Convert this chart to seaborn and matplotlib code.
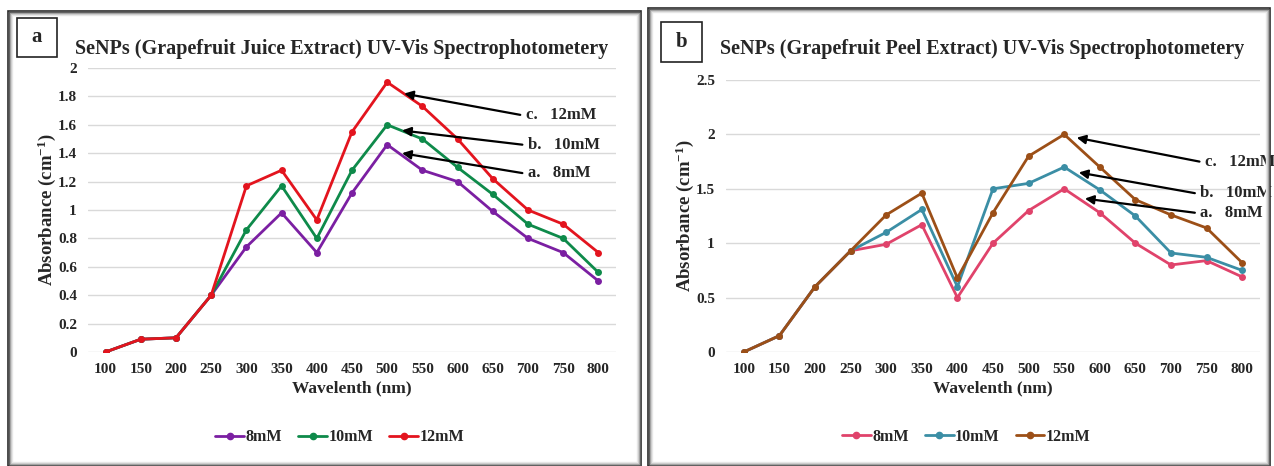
import matplotlib
matplotlib.use("Agg")
import matplotlib.pyplot as plt
from matplotlib.patches import Rectangle
from matplotlib.lines import Line2D
import seaborn as sns
import pandas as pd

# data
wavelengths = [100, 150, 200, 250, 300, 350, 400, 450, 500, 550, 600, 650, 700, 750, 800]
concs = ["8mM", "10mM", "12mM"]

juice_8 = [0, 0.09, 0.10, 0.40, 0.74, 0.98, 0.70, 1.12, 1.46, 1.28, 1.20, 0.99, 0.80, 0.70, 0.50]
juice_10 = [0, 0.09, 0.10, 0.40, 0.86, 1.17, 0.80, 1.28, 1.60, 1.50, 1.30, 1.11, 0.90, 0.80, 0.56]
juice_12 = [0, 0.09, 0.10, 0.40, 1.17, 1.28, 0.93, 1.55, 1.90, 1.73, 1.50, 1.22, 1.00, 0.90, 0.70]

peel_8 = [0, 0.15, 0.60, 0.93, 0.99, 1.17, 0.50, 1.00, 1.30, 1.50, 1.28, 1.00, 0.80, 0.84, 0.69]
peel_10 = [0, 0.15, 0.60, 0.93, 1.10, 1.31, 0.60, 1.50, 1.55, 1.70, 1.49, 1.25, 0.91, 0.87, 0.75]
peel_12 = [0, 0.15, 0.60, 0.93, 1.26, 1.46, 0.68, 1.28, 1.80, 2.00, 1.70, 1.40, 1.26, 1.14, 0.82]

juice_colors = ["#7B1FA2", "#0E8A4A", "#E3141E"]
peel_colors = ["#E0436B", "#3B8EA5", "#9C4F17"]

sns.set_theme(style="white")
plt.rcParams["font.family"] = ["Liberation Serif", "DejaVu Serif"]
plt.rcParams["font.weight"] = "bold"
plt.rcParams["mathtext.fontset"] = "custom"
plt.rcParams["mathtext.rm"] = "Liberation Serif:bold"
plt.rcParams["mathtext.bf"] = "Liberation Serif:bold"
plt.rcParams["mathtext.default"] = "bf"

W, H = 1274, 466
fig = plt.figure(figsize=(W / 100, H / 100), dpi=100)
fig.patch.set_facecolor("white")


def frame(x0, y0, x1, y1):
    # panel border with a soft inner shadow, pixel coords from top-left
    for i, g in enumerate(["#2b2b2b", "#555555", "#9a9a9a", "#c8c8c8", "#e6e6e6"]):
        r = Rectangle(((x0 + i) / W, 1 - (y1 - i) / H), (x1 - x0 - 2 * i) / W,
                      (y1 - y0 - 2 * i) / H, transform=fig.transFigure,
                      fill=False, ec=g, lw=1.2 if i == 0 else 1.0)
        fig.add_artist(r)


def letter_box(x0, y0, x1, y1, s):
    fig.add_artist(Rectangle((x0 / W, 1 - y1 / H), (x1 - x0) / W, (y1 - y0) / H,
                             transform=fig.transFigure, fill=False, ec="#222222", lw=1.2))
    fig.text((x0 + x1) / 2 / W, 1 - (y0 + y1) / 2 / H, s, ha="center", va="center",
             fontsize=15, fontweight="bold")


def panel(rect, series, colors, ylim, yticks, yticklabels, title, notes, leg_xy,
          title_pad):
    ax = fig.add_axes(rect)
    rows = []
    for c, vals in zip(concs, series):
        for i, v in enumerate(vals):
            rows.append({"pos": i, "abs": v, "conc": c})
    df = pd.DataFrame(rows)
    sns.lineplot(data=df, x="pos", y="abs", hue="conc", palette=dict(zip(concs, colors)),
                 marker="o", markersize=5, markeredgewidth=0, linewidth=2.0,
                 legend=False, ax=ax)
    ax.set_xlim(-0.5, len(wavelengths) - 0.5)
    ax.set_ylim(*ylim)
    ax.set_xticks(range(len(wavelengths)))
    ax.set_xticklabels([str(w) for w in wavelengths])
    ax.set_yticks(yticks)
    ax.set_yticklabels(yticklabels)
    ax.tick_params(axis="both", length=0, labelsize=11, pad=8)
    for lab in ax.get_xticklabels() + ax.get_yticklabels():
        lab.set_fontweight("bold")
    ax.yaxis.grid(True, color="#d9d9d9", lw=1.0)
    ax.set_axisbelow(True)
    for s in ax.spines.values():
        s.set_visible(False)
    ax.set_xlabel("Wavelenth (nm)", fontsize=12.5, fontweight="bold", labelpad=3)
    ax.set_ylabel("Absorbance (cm$^{-1}$)", fontsize=13.5, fontweight="bold", labelpad=0)
    ax.set_title(title, fontsize=14.5, fontweight="bold", pad=title_pad, x=0.48)
    for lbl, tip, tail in notes:
        ax.annotate("", xy=tip, xytext=tail, annotation_clip=False,
                    arrowprops=dict(arrowstyle="-|>", color="black", lw=1.6,
                                    mutation_scale=13, shrinkA=0, shrinkB=0))
        ax.text(tail[0] + 0.15, tail[1], lbl, ha="left", va="center", fontsize=12,
                fontweight="bold", clip_on=False)
    handles = [Line2D([], [], color=c, lw=2.0, marker="o", markersize=4.5) for c in colors]
    ax.legend(handles, concs, loc="center", bbox_to_anchor=leg_xy, ncol=3,
              frameon=False, handlelength=1.8, columnspacing=1.0,
              handletextpad=0.1, prop={"weight": "bold", "size": 11.5})
    return ax


frame(8, 11, 641, 466)
frame(648, 8, 1270, 466)
letter_box(17, 18, 57, 57, "a")
letter_box(661, 22, 702, 62, "b")

panel([88 / W, 1 - 352 / H, 528 / W, 284 / H],
      [juice_8, juice_10, juice_12], juice_colors, (0, 2),
      [0, 0.2, 0.4, 0.6, 0.8, 1.0, 1.2, 1.4, 1.6, 1.8, 2.0],
      ["0", "0.2", "0.4", "0.6", "0.8", "1", "1.2", "1.4", "1.6", "1.8", "2"],
      "SeNPs (Grapefruit Juice Extract) UV-Vis Spectrophotometery",
      [("c.   12mM", (8.48, 1.82), (11.78, 1.67)),
       ("b.   10mM", (8.42, 1.56), (11.84, 1.46)),
       ("a.   8mM", (8.42, 1.40), (11.84, 1.26))],
      (0.477, -0.30), 10)

panel([726 / W, 1 - 352 / H, 534 / W, 272 / H],
      [peel_8, peel_10, peel_12], peel_colors, (0, 2.5),
      [0, 0.5, 1.0, 1.5, 2.0, 2.5],
      ["0", "0.5", "1", "1.5", "2", "2.5"],
      "SeNPs (Grapefruit Peel Extract) UV-Vis Spectrophotometery",
      [("c.   12mM", (9.35, 1.97), (12.8, 1.75)),
       ("b.   10mM", (9.41, 1.65), (12.67, 1.46)),
       ("a.   8mM", (9.58, 1.41), (12.67, 1.28))],
      (0.45, -0.3125), 19)

fig.savefig("out.png", dpi=100, facecolor="white")
